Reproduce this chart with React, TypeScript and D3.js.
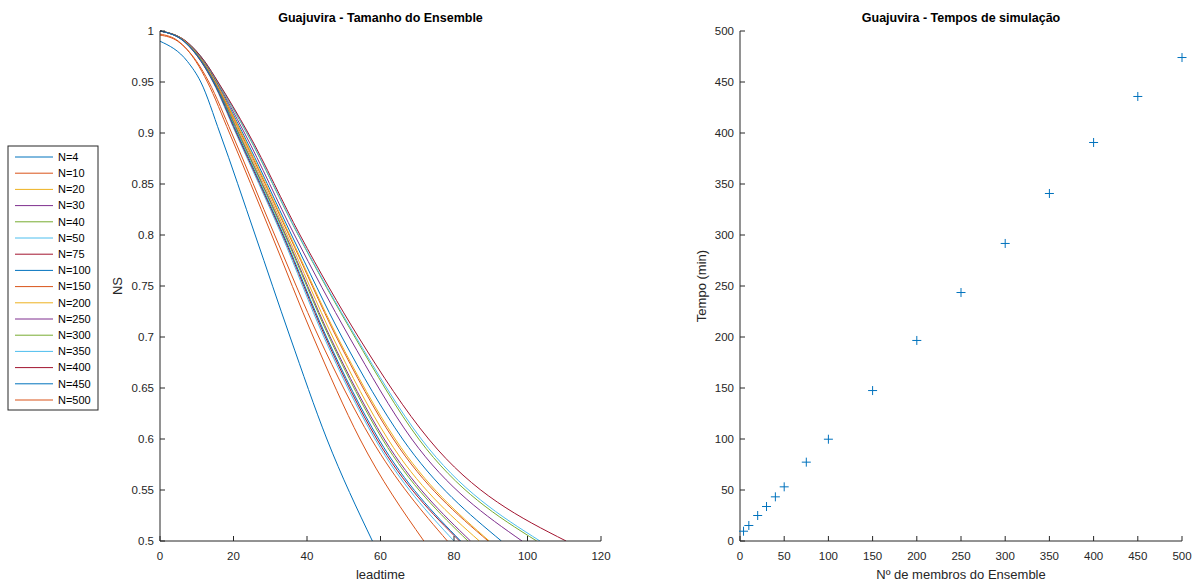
import React from "react";
import * as d3 from "d3";

// ---------- Data ----------
const seriesNames = ["N=4","N=10","N=20","N=30","N=40","N=50","N=75","N=100","N=150","N=200","N=250","N=300","N=350","N=400","N=450","N=500"];
const matlabColors = ["#0072BD","#D95319","#EDB120","#7E2F8E","#77AC30","#4DBEEE","#A2142F"];
// NS levels and the leadtime at which each curve crosses them
const nsLevels = [0.99, 0.97, 0.95, 0.9, 0.8, 0.7, 0.6, 0.5];
const startNS = [0.99,0.997,1,1,1,1,1,1,1,1,1,1,1,1,1,0.996];
const crossLead: number[][] = [
  [0, 7.5, 11.1, 16.3, 25.9, 35.4, 45.4, 57.8],
  [5.0, 9.8, 12.9, 18.9, 30.4, 41.7, 54.4, 71.8],
  [6.7, 11.5, 14.9, 21.7, 34.6, 47.0, 62.0, 86.9],
  [6.9, 11.9, 15.4, 23.0, 36.6, 51.5, 68.5, 98.5],
  [7.0, 12.1, 15.6, 23.6, 37.6, 53.0, 70.4, 102.5],
  [7.0, 12.2, 15.7, 23.7, 37.7, 53.3, 71.1, 103.4],
  [7.1, 12.2, 15.8, 24.0, 38.1, 54.0, 73.1, 110.5],
  [6.8, 11.8, 15.2, 22.5, 35.8, 49.5, 66.0, 92.9],
  [6.7, 11.6, 15.0, 22.0, 35.1, 48.0, 63.5, 89.3],
  [6.8, 11.7, 15.1, 22.2, 35.3, 48.3, 64.0, 89.6],
  [6.6, 11.5, 14.8, 21.4, 34.2, 46.3, 61.0, 84.5],
  [6.6, 11.4, 14.7, 21.3, 34.0, 46.0, 60.5, 83.8],
  [6.4, 11.2, 14.4, 20.6, 33.1, 44.6, 58.5, 80.0],
  [6.5, 11.2, 14.5, 20.8, 33.4, 45.0, 59.0, 81.5],
  [6.5, 11.3, 14.6, 21.0, 33.6, 45.3, 59.5, 81.8],
  [4.8, 10.0, 13.3, 19.5, 31.2, 43.2, 57.5, 78.2],
];

const ensembleSizes = [4,10,20,30,40,50,75,100,150,200,250,300,350,400,450,500];
const simTimes = [9.6,15.2,25,33.8,43.3,53.1,77.3,99.8,147.5,196.6,243.6,291.7,340.7,390.7,435.8,474];

const leftXTicks = [0,20,40,60,80,100,120];
const leftYTicks = [0.5,0.55,0.6,0.65,0.7,0.75,0.8,0.85,0.9,0.95,1];
const rightTicks = [0,50,100,150,200,250,300,350,400,450,500];

// ---------- Layout ----------
const W = 1202, H = 586;
const L = { x0: 160, x1: 601, y0: 31, y1: 541 };
const R = { x0: 740, x1: 1182, y0: 31, y1: 541 };
const FONT = "'Liberation Sans', Arial, Helvetica, sans-serif";
const AX = "#262626";
const TICK = 5;

export default function App() {
  const xL = d3.scaleLinear().domain([0, 120]).range([L.x0, L.x1]);
  const yL = d3.scaleLinear().domain([0.5, 1]).range([L.y1, L.y0]);
  const xR = d3.scaleLinear().domain([0, 500]).range([R.x0, R.x1]);
  const yR = d3.scaleLinear().domain([0, 500]).range([R.y1, R.y0]);

  const line = d3.line<[number, number]>()
    .x(d => xL(d[0]))
    .y(d => yL(d[1]))
    .curve(d3.curveMonotoneX);

  const fmt = (v: number) => String(+v.toFixed(2));

  const curves = seriesNames.map((name, i) => {
    const pts: [number, number][] = [[0, startNS[i]]];
    nsLevels.forEach((lv, j) => {
      const t = crossLead[i][j];
      if (t > 0) pts.push([t, lv]);
    });
    return { name, color: matlabColors[i % 7], d: line(pts) || "" };
  });

  const legX = 8, legY = 146, legW = 90, legH = 264, legStep = 16.2;

  return (
    <svg width={W} height={H} style={{ position: "absolute", left: 0, top: 0, background: "#fff" }} fontFamily={FONT}>
      <rect x={0} y={0} width={W} height={H} fill="#fff" />
      <defs>
        <clipPath id="clipL"><rect x={L.x0} y={L.y0 - 2} width={L.x1 - L.x0} height={L.y1 - L.y0 + 2} /></clipPath>
      </defs>

      {/* ---------- Left plot ---------- */}
      <g clipPath="url(#clipL)">
        {curves.map(c => (
          <path key={c.name} d={c.d} fill="none" stroke={c.color} strokeWidth={1} />
        ))}
      </g>
      {/* axes */}
      <line x1={L.x0} x2={L.x0} y1={L.y0} y2={L.y1} stroke={AX} strokeWidth={1} />
      <line x1={L.x0} x2={L.x1} y1={L.y1} y2={L.y1} stroke={AX} strokeWidth={1} />
      {leftYTicks.map(v => (
        <g key={"ly" + v}>
          <line x1={L.x0} x2={L.x0 + TICK} y1={yL(v)} y2={yL(v)} stroke={AX} />
          <text x={L.x0 - 6} y={yL(v)} dy="0.35em" textAnchor="end" fontSize={11.5} fill={AX}>{fmt(v)}</text>
        </g>
      ))}
      {leftXTicks.map(v => (
        <g key={"lx" + v}>
          <line x1={xL(v)} x2={xL(v)} y1={L.y1} y2={L.y1 - TICK} stroke={AX} />
          <text x={xL(v)} y={L.y1 + 19} textAnchor="middle" fontSize={11.5} fill={AX}>{v}</text>
        </g>
      ))}
      <text x={(L.x0 + L.x1) / 2} y={579} textAnchor="middle" fontSize={13} fill={AX}>leadtime</text>
      <text transform={`translate(${122},${(L.y0 + L.y1) / 2}) rotate(-90)`} textAnchor="middle" fontSize={13} fill={AX}>NS</text>
      <text x={(L.x0 + L.x1) / 2} y={22} textAnchor="middle" fontSize={12.5} fontWeight="bold" fill="#000">Guajuvira - Tamanho do Ensemble</text>

      {/* legend */}
      <rect x={legX} y={legY} width={legW} height={legH} fill="#fff" stroke={AX} strokeWidth={1} />
      {curves.map((c, i) => {
        const y = legY + 11 + i * legStep;
        return (
          <g key={"lg" + c.name}>
            <line x1={15} x2={53} y1={y} y2={y} stroke={c.color} strokeWidth={1} />
            <text x={58} y={y} dy="0.35em" fontSize={11} fill="#000">{c.name}</text>
          </g>
        );
      })}

      {/* ---------- Right plot ---------- */}
      <line x1={R.x0} x2={R.x0} y1={R.y0} y2={R.y1} stroke={AX} strokeWidth={1} />
      <line x1={R.x0} x2={R.x1} y1={R.y1} y2={R.y1} stroke={AX} strokeWidth={1} />
      {rightTicks.map(v => (
        <g key={"ry" + v}>
          <line x1={R.x0} x2={R.x0 + TICK} y1={yR(v)} y2={yR(v)} stroke={AX} />
          <text x={R.x0 - 6} y={yR(v)} dy="0.35em" textAnchor="end" fontSize={11.5} fill={AX}>{v}</text>
        </g>
      ))}
      {rightTicks.map(v => (
        <g key={"rx" + v}>
          <line x1={xR(v)} x2={xR(v)} y1={R.y1} y2={R.y1 - TICK} stroke={AX} />
          <text x={xR(v)} y={R.y1 + 19} textAnchor="middle" fontSize={11.5} fill={AX}>{v}</text>
        </g>
      ))}
      {ensembleSizes.map((n, i) => {
        const cx = xR(n), cy = yR(simTimes[i]), s = 4.5;
        return (
          <g key={"pt" + n} stroke="#0072BD" strokeWidth={1}>
            <line x1={cx - s} x2={cx + s} y1={cy} y2={cy} />
            <line x1={cx} x2={cx} y1={cy - s} y2={cy + s} />
          </g>
        );
      })}
      <text x={(R.x0 + R.x1) / 2} y={579} textAnchor="middle" fontSize={13} fill={AX}>Nº de membros do Ensemble</text>
      <text transform={`translate(${706},${(R.y0 + R.y1) / 2}) rotate(-90)`} textAnchor="middle" fontSize={13} fill={AX}>Tempo (min)</text>
      <text x={(R.x0 + R.x1) / 2} y={22} textAnchor="middle" fontSize={12.5} fontWeight="bold" fill="#000">Guajuvira - Tempos de simulação</text>
    </svg>
  );
}
